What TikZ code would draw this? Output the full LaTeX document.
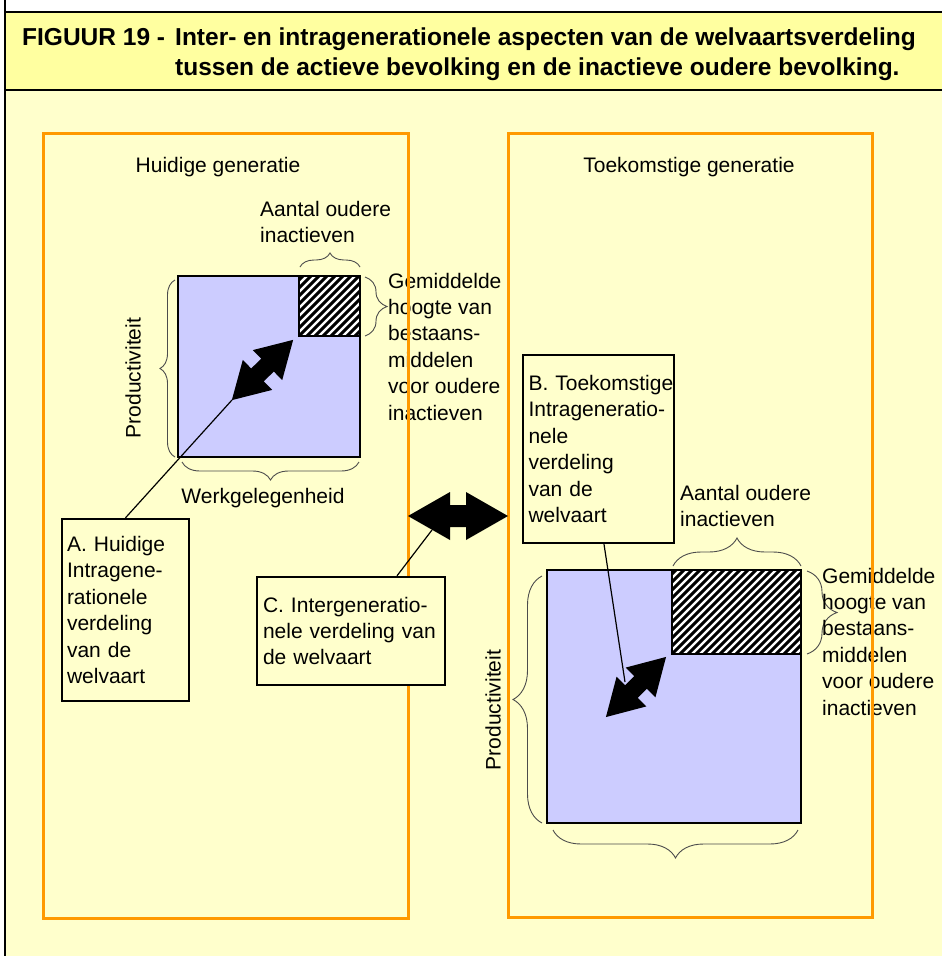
\documentclass[tikz,border=0pt]{standalone}
\usepackage{fontspec}
\setmainfont{Liberation Sans}
\usetikzlibrary{decorations.pathreplacing}
\definecolor{bodyyel}{HTML}{FFFFCC}
\definecolor{headyel}{HTML}{FFFFA0}
\definecolor{lblue}{HTML}{CCCCFF}
\definecolor{orng}{HTML}{FF9900}
\newcommand\DblArrow[7]{%
  \begin{scope}[shift={(#1,#2)},rotate=#3]
    \fill[black] (-#4/2,0) -- (-#4/2+#5,#6) -- (-#4/2+#5,#7) -- (#4/2-#5,#7) -- (#4/2-#5,#6) -- (#4/2,0)
      -- (#4/2-#5,-#6) -- (#4/2-#5,-#7) -- (-#4/2+#5,-#7) -- (-#4/2+#5,-#6) -- cycle;
  \end{scope}}
\newcommand\Hatch[4]{%
  \begin{scope}
    \clip (#1,#2) rectangle (#3,#4);
    \fill[white] (#1,#2) rectangle (#3,#4);
    \foreach \k in {-12,...,18} \draw[line width=2.9pt] ({#1+8*\k},#4) -- ({#1+8*\k+(#4-#2)},#2);
  \end{scope}}
\begin{document}
\begin{tikzpicture}[x=1pt,y=-1pt,
  txt/.style={font=\fontsize{21}{26.4}\selectfont, inner sep=0pt, align=left, anchor=north west},
  lbl/.style={font=\fontsize{21}{26.4}\selectfont, inner sep=0pt},
  hdr/.style={font=\fontsize{24.5}{30}\selectfont\bfseries, inner sep=0pt, anchor=base west},
  callout/.style={draw=black, line width=2.4pt, fill=bodyyel, font=\fontsize{21}{26.4}\selectfont, align=left, inner ysep=0pt},
  orangebox/.style={draw=orng, line width=3pt},
  bluearea/.style={draw=black, line width=2.4pt, fill=lblue},
  hatchedge/.style={draw=black, line width=2.4pt},
  bracestyle/.style={decorate, decoration={brace, amplitude=#1}, draw=black!70, line width=0.9pt},
  conn/.style={draw=black, line width=1.2pt}]

\useasboundingbox (0,0) rectangle (942,956);
\fill[white] (0,0) rectangle (942,956);
\fill[bodyyel] (5,90) rectangle (942,956);
\fill[headyel] (5,12) rectangle (942,90);
\draw[line width=1.5pt] (942,12) -- (5,12);
\draw[line width=1.5pt] (5,90) -- (942,90);
\draw[line width=1.5pt] (5,0) -- (5,956);

% header
\node[hdr] (fig) at (22,45) {FIGUUR 19 -};
\node[hdr] (t1) at (175,45) {Inter- en intragenerationele aspecten van de welvaartsverdeling};
\node[hdr] (t2) at (175,75) {tussen de actieve bevolking en de inactieve oudere bevolking.};

\node[lbl, anchor=base] (hg) at (218,172) {Huidige generatie};
\node[lbl, anchor=base] (tg) at (689,172) {Toekomstige generatie};

% left diagram
\draw[bluearea] (178,276) rectangle (360,457);
\Hatch{299}{276}{360}{336}
\draw[hatchedge] (299,276) rectangle (360,336);
\draw[bracestyle=14] (300,267) -- (360,267);
\draw[bracestyle=22] (365,277) -- (365,336);
\draw[bracestyle=15] (175,457) -- (175,280);
\draw[bracestyle=18] (359,462) -- (182,462);
\node[txt] (aoL) at (260,200.7) {Aantal oudere\\inactieven};
\node[txt] (ghL) at (388,272.7) {Gemiddelde\\hoogte van\\bestaans-\\middelen\\voor oudere\\inactieven};
\node[lbl, rotate=90] (prL) at (133,378) {Productiviteit};
\node[lbl, anchor=base] (wg) at (263,503) {Werkgelegenheid};
\DblArrow{262.5}{370}{44.5}{86}{36}{21}{9}
\coordinate (arrLtail) at (232,400);

% right diagram
\draw[bluearea] (547,570) rectangle (801,823);
\Hatch{672}{570}{801}{654}
\draw[hatchedge] (672,570) rectangle (801,654);
\draw[bracestyle=28] (673,566) -- (801,566);
\draw[bracestyle=30] (807,571) -- (807,654);
\draw[bracestyle=29] (542,823) -- (542,576);
\draw[bracestyle=28] (798,830) -- (553,830);
\node[txt] (aoR) at (680,484.7) {Aantal oudere\\inactieven};
\node[txt] (ghR) at (822,567.7) {Gemiddelde\\hoogte van\\bestaans-\\middelen\\voor oudere\\inactieven};
\node[lbl, rotate=90] (prR) at (493,710) {Productiviteit};
\DblArrow{636}{687}{45}{85}{36}{21}{9}
\coordinate (arrRpt) at (625,682);

% generation frames
\draw[orangebox] (43,133) rectangle (408,918);
\draw[orangebox] (508,133) rectangle (872,917);

% middle arrow
\DblArrow{458}{516}{0}{100}{42}{24}{11}
\coordinate (midArrPt) at (432,530);

% callouts
\node[callout, text width=117pt, inner xsep=5pt, minimum height=182pt] (boxA) at (125.5,610)
  {A. Huidige\\Intragene-\\rationele\\verdeling\\van de\\welvaart};
\node[callout, text width=140pt, inner xsep=5.5pt, minimum height=188pt] (boxB) at (598.5,449)
  {\mbox{B. Toekomstige}\\Intrageneratio-\\nele\\verdeling\\van de\\welvaart};
\node[callout, text width=176pt, inner xsep=6pt, minimum height=108pt] (boxC) at (351,631)
  {C. Intergeneratio-\\nele verdeling van\\de welvaart};

\draw[conn] (boxA.north) -- (arrLtail);
\draw[conn] ([xshift=46pt]boxC.north) -- (midArrPt);
\draw[conn] ([xshift=5.5pt]boxB.south) -- (arrRpt);
\end{tikzpicture}
\end{document}
